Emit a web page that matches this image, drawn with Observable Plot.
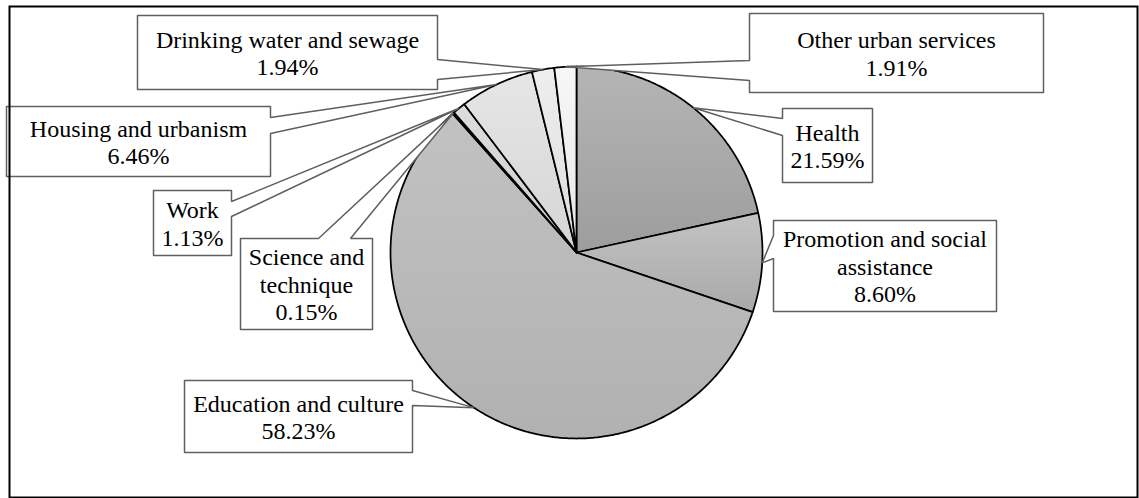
<!DOCTYPE html>
<html>
<head>
<meta charset="utf-8">
<script src="https://cdn.jsdelivr.net/npm/d3@7"></script>
<script src="https://cdn.jsdelivr.net/npm/@observablehq/plot@0.6"></script>
<style>
  html, body { margin: 0; padding: 0; background: #fff; }
  #chart svg { display: block; }
  #chart svg text { font-family: "Liberation Serif", "Times New Roman", "DejaVu Serif", serif !important; }
</style>
</head>
<body>
<div id="chart"></div>
<script>
// ---- data ----
const categories = [
  "Health",
  "Promotion and social assistance",
  "Education and culture",
  "Science and technique",
  "Work",
  "Housing and urbanism",
  "Drinking water and sewage",
  "Other urban services"
];
const shares = [21.59, 8.60, 58.23, 0.15, 1.13, 6.46, 1.94, 1.91];
const labelLines = [
  ["Health"],
  ["Promotion and social", "assistance"],
  ["Education and culture"],
  ["Science and", "technique"],
  ["Work"],
  ["Housing and urbanism"],
  ["Drinking water and sewage"],
  ["Other urban services"]
];

// ---- styles ----
const sliceGradients = [
  ["#b5b5b5", "#9d9d9d"],
  ["#c3c3c3", "#a9a9a9"],
  ["#c2c2c2", "#b1b1b1"],
  ["#111111", "#111111"],
  ["#dcdcdc", "#cfcfcf"],
  ["#e6e6e6", "#d5d5d5"],
  ["#eeeeee", "#dddddd"],
  ["#f7f7f7", "#e7e7e7"]
];

// ---- layout (pixels) ----
const W = 1139, H = 498;
const cx = 576, cy = 252, R = 186;
// callout boxes: [x0, y0, x1, y1, side, a, b]
const callouts = [
  [782, 108, 872, 182, "left", 118, 135],
  [773, 220, 996, 311, "left", 235, 258],
  [184, 380, 412, 452, "right", 390, 405],
  [240, 238, 372, 329, "top", 318, 350],
  [153, 190, 231, 255, "right", 201, 216],
  [6, 106, 270, 176, "right", 117, 133],
  [137, 15, 437, 89, "right", 59, 79],
  [749, 13, 1043, 92, "left", 60, 80]
];

const ux = px => (px - cx) / R;
const uy = py => (cy - py) / R;

// slice geometry in unit coordinates (radius 1, clockwise from 12 o'clock)
const total = d3.sum(shares);
let acc = 0;
const slices = shares.map((v, i) => {
  const a0 = acc / total * 2 * Math.PI;
  acc += v;
  const a1 = acc / total * 2 * Math.PI;
  const n = Math.max(2, Math.ceil((a1 - a0) / (Math.PI / 360)));
  const pts = [{x: 0, y: 0}];
  for (let k = 0; k <= n; k++) {
    const a = a0 + (a1 - a0) * k / n;
    pts.push({x: Math.sin(a), y: Math.cos(a)});
  }
  pts.push({x: 0, y: 0});
  const am = (a0 + a1) / 2;
  return {name: categories[i], pts, tip: {x: Math.sin(am), y: Math.cos(am)}, i};
});

// callout polygons
const calloutShapes = slices.map((s, i) => {
  const [x0, y0, x1, y1, side, a, b] = callouts[i];
  const t = s.tip;
  const P = (px, py) => ({x: ux(px), y: uy(py)});
  const poly = [P(x0, y0)];
  if (side === "top") poly.push(P(a, y0), t, P(b, y0));
  poly.push(P(x1, y0));
  if (side === "right") poly.push(P(x1, a), t, P(x1, b));
  poly.push(P(x1, y1), P(x0, y1));
  if (side === "left") poly.push(P(x0, b), t, P(x0, a));
  poly.push(P(x0, y0));
  const text = [...labelLines[i], shares[i].toFixed(2) + "%"].join("\n");
  return {poly, text, tx: ux((x0 + x1) / 2), ty: uy((y0 + y1) / 2)};
});

const marks = [];
slices.forEach((s, i) => {
  marks.push(Plot.line(s.pts, {x: "x", y: "y", fill: `url(#grad${i})`, stroke: "#000", strokeWidth: 1.75, strokeLinejoin: "round"}));
});
calloutShapes.forEach(c => {
  marks.push(Plot.line(c.poly, {x: "x", y: "y", fill: "#fff", stroke: "#5f5f5f", strokeWidth: 1.5, strokeLinejoin: "miter"}));
});
marks.push(Plot.text(calloutShapes, {
  x: "tx", y: "ty", text: "text",
  fontSize: 24, fontFamily: "'Liberation Serif', 'Times New Roman', serif",
  lineHeight: 1.15, textAnchor: "middle", fill: "#000"
}));
marks.push(Plot.frame({stroke: "#000", strokeWidth: 2, insetLeft: 9, insetTop: 6, insetRight: 2, insetBottom: 1}));

const chart = Plot.plot({
  width: W, height: H, margin: 0,
  x: {domain: [ux(0), ux(W)], axis: null},
  y: {domain: [uy(H), uy(0)], axis: null},
  style: {background: "#fff", fontFamily: "'Liberation Serif', serif"},
  marks
});

const defs = sliceGradients.map((g, i) =>
  `<linearGradient id="grad${i}" x1="0" y1="0" x2="0" y2="1"><stop offset="0" stop-color="${g[0]}"/><stop offset="1" stop-color="${g[1]}"/></linearGradient>`
).join("");
chart.insertAdjacentHTML("afterbegin", `<defs>${defs}</defs>`);
document.getElementById("chart").appendChild(chart);
</script>
</body>
</html>
